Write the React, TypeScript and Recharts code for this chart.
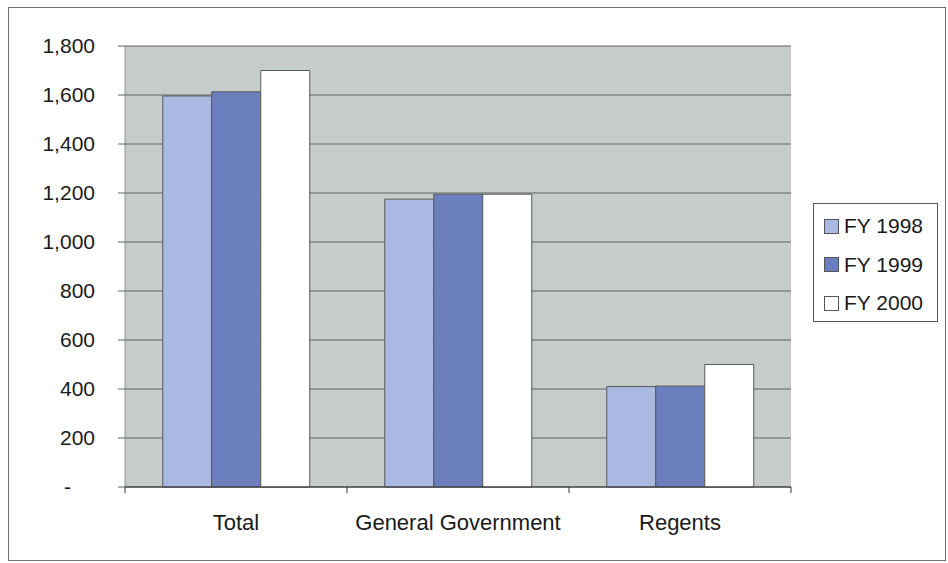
import { BarChart, Bar, XAxis, YAxis, CartesianGrid } from 'recharts'

const categories = ['Total', 'General Government', 'Regents']
const fy1998 = [1596, 1175, 410]
const fy1999 = [1613, 1195, 412]
const fy2000 = [1700, 1195, 500]
const yTicks = [0, 200, 400, 600, 800, 1000, 1200, 1400, 1600, 1800]

const seriesInfo = [
  { key: 'fy1998', name: 'FY 1998', color: '#a9b9e1' },
  { key: 'fy1999', name: 'FY 1999', color: '#6b7ebd' },
  { key: 'fy2000', name: 'FY 2000', color: '#ffffff' },
]

const data = categories.map((c, i) => ({
  category: c,
  fy1998: fy1998[i],
  fy1999: fy1999[i],
  fy2000: fy2000[i],
}))

const W = 948
const H = 563
const margin = { top: 46, right: 157, bottom: 36, left: 15 }
const yAxisWidth = 110
const plotWidth = W - margin.left - margin.right - yAxisWidth
const band = plotWidth / categories.length
const font = '"Liberation Sans", Arial, sans-serif'

// y labels, with the accounting dash for zero sitting left of the numbers
function YTick(props: any) {
  const { x, y, payload } = props
  const v = payload.value as number
  return (
    <text x={v === 0 ? x - 24 : x} y={y} dy={7} textAnchor="end" fontSize={21} fontFamily={font} fill="#1a1a1a">
      {v === 0 ? '-' : v.toLocaleString('en-US')}
    </text>
  )
}

// category label plus tick marks at the band edges
function XTick(props: any) {
  const { x, y, payload, index } = props
  const left = x - band / 2
  const right = x + band / 2
  const top = y - 8
  return (
    <g>
      <line x1={left} x2={left} y1={top} y2={top + 6} stroke="#333" />
      {index === categories.length - 1 && <line x1={right} x2={right} y1={top} y2={top + 6} stroke="#333" />}
      <text x={x} y={y + 35} textAnchor="middle" fontSize={22} fontFamily={font} fill="#1a1a1a">
        {payload.value}
      </text>
    </g>
  )
}

function LegendBox() {
  return (
    <div
      style={{
        position: 'absolute',
        left: 813,
        top: 203,
        width: 125,
        height: 119,
        boxSizing: 'border-box',
        border: '1px solid #555',
        background: '#fff',
        padding: '3px 0 0 10px',
        fontFamily: font,
        fontSize: 21,
        color: '#1a1a1a',
      }}
    >
      {seriesInfo.map((s) => (
        <div key={s.key} style={{ display: 'flex', alignItems: 'center', height: 38.5 }}>
          <span
            style={{
              display: 'inline-block',
              width: 15,
              height: 15,
              boxSizing: 'border-box',
              background: s.color,
              border: '1px solid #555',
              marginRight: 5,
            }}
          />
          <span>{s.name}</span>
        </div>
      ))}
    </div>
  )
}

export default function App() {
  return (
    <div style={{ position: 'absolute', left: 0, top: 0, width: W, height: H, background: '#fff' }}>
      <div
        style={{
          position: 'absolute',
          left: 8,
          top: 7,
          width: 938,
          height: 554,
          boxSizing: 'border-box',
          border: '1px solid #6f6f6f',
        }}
      />
      <div style={{ position: 'absolute', left: 0, top: 0 }}>
        <BarChart width={W} height={H} data={data} margin={margin} barCategoryGap="17%" barGap={0}>
          <CartesianGrid vertical={false} fill="#c6ccca" stroke="#5f6562" strokeWidth={1.2} />
          <XAxis
            dataKey="category"
            tick={<XTick />}
            tickLine={false}
            axisLine={{ stroke: '#333', strokeWidth: 1.2 }}
            height={40}
            interval={0}
          />
          <YAxis
            domain={[0, 1800]}
            ticks={yTicks}
            width={yAxisWidth}
            tick={<YTick />}
            tickSize={7}
            tickMargin={23}
            tickLine={{ stroke: '#5f6562' }}
            axisLine={{ stroke: '#8f9592' }}
            interval={0}
          />
          {seriesInfo.map((s) => (
            <Bar key={s.key} dataKey={s.key} name={s.name} fill={s.color} stroke="#5a5a5a" strokeWidth={1} isAnimationActive={false} />
          ))}
        </BarChart>
      </div>
      <LegendBox />
    </div>
  )
}
